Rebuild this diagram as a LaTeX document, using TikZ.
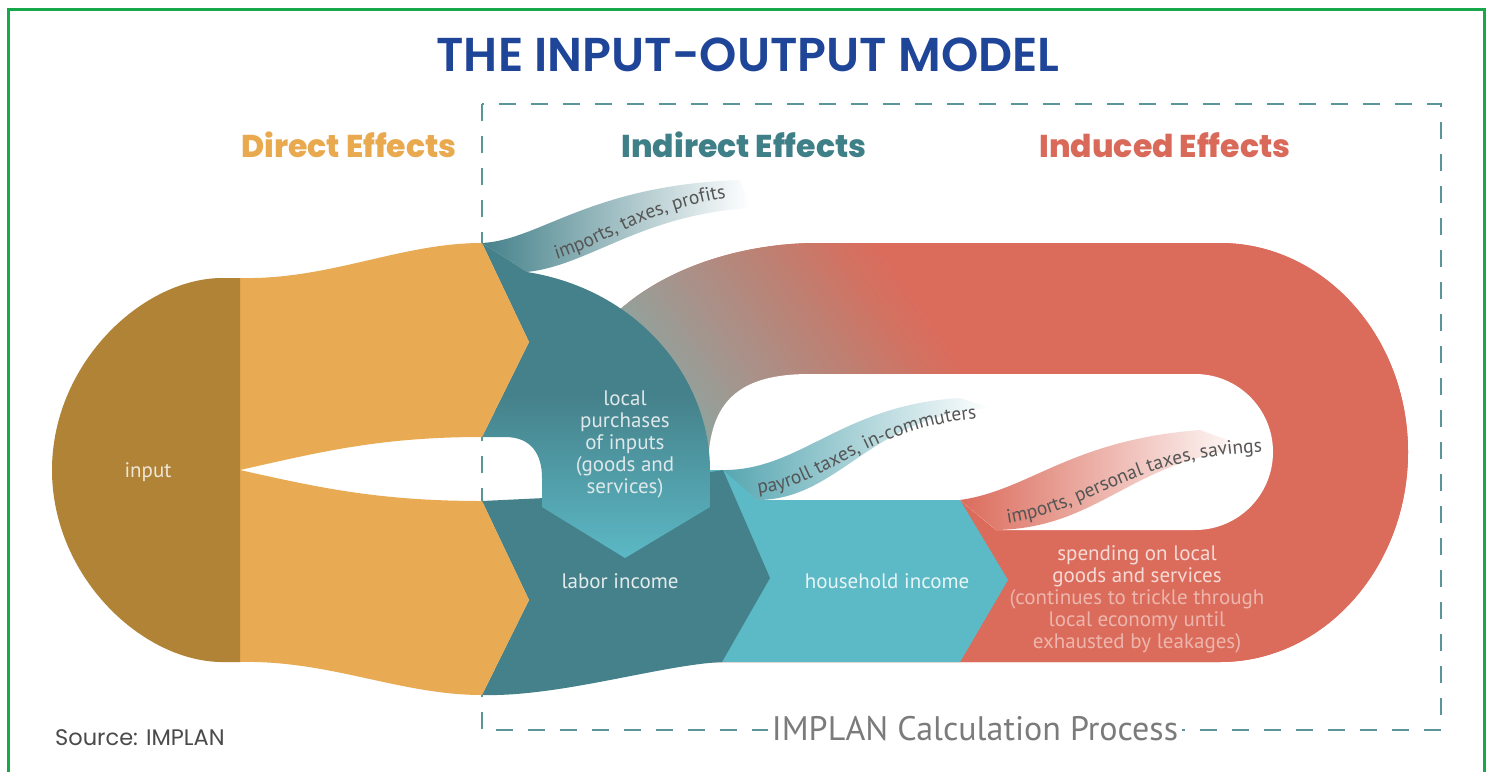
\documentclass[tikz,border=0pt]{standalone}
\usepackage{fontspec}
\usetikzlibrary{decorations.text}
\setmainfont{PT Sans}
\newfontfamily\lblfont{PT Sans}
\newfontfamily\srcfont{Poppins}
% title in a semibold cut where one is installed
\IfFontExistsTF{Poppins SemiBold}
  {\newfontfamily\titlefont{Poppins SemiBold}}
  {\newfontfamily\titlefont{Poppins}[UprightFont=*-Bold]}
% column heads in the heaviest cut at hand
\IfFontExistsTF{Poppins ExtraBold}
  {\newfontfamily\headfont{Poppins ExtraBold}}
  {\newfontfamily\headfont{Poppins}[UprightFont=*-Bold]}

\definecolor{framec}{HTML}{17A84B}
\definecolor{dashc}{HTML}{5C9599}
\definecolor{titleblue}{HTML}{1F4599}
\definecolor{goldc}{HTML}{B08336}
\definecolor{orangec}{HTML}{E8AB53}
\definecolor{tealc}{HTML}{45818A}
\definecolor{tealribbon}{HTML}{55A5B0}
\definecolor{cyanc}{HTML}{5CB9C6}
\definecolor{redc}{HTML}{DB6C5C}
\definecolor{directc}{HTML}{E9A94F}
\definecolor{indirectc}{HTML}{3F7F87}
\definecolor{inducedc}{HTML}{D96A5A}
\definecolor{bandgray}{HTML}{93A19B}
\definecolor{bandmid}{HTML}{A8928A}
\definecolor{bandwarm}{HTML}{C07E70}
\definecolor{bandhot}{HTML}{D27262}
\definecolor{ribbongray}{HTML}{555555}
\definecolor{capgray}{HTML}{7B7B7B}
\definecolor{srcgray}{HTML}{4A4A4A}

% colour run of the upper arch of the loop
\pgfdeclarehorizontalshading{bandgrad}{100bp}{color(0bp)=(bandgray); color(40bp)=(bandgray); color(47.5bp)=(bandmid); color(58bp)=(bandwarm); color(64bp)=(bandhot); color(68bp)=(redc); color(100bp)=(redc)}

\newcommand\ribfont{\lblfont\fontsize{19.5}{22}\selectfont}
\newcommand\labfont{\lblfont\fontsize{21}{22}\selectfont}

% outlines reused for clipping
\def\looppath{(600,520) -- (600,330) .. controls (650,270) and (740,243) .. (817,243) -- (1220,243) .. controls (1323.8,243) and (1408,336.6) .. (1408,452) .. controls (1408,567.4) and (1323.8,662) .. (1220,662) -- (600,662) -- cycle}
\def\upperteal{(482,243) -- (527,272) .. controls (640,290) and (710,380) .. (710,470) -- (710,507) -- (625,558) -- (542,507) -- (542,478) .. controls (542,455) and (532,437) .. (505,437) -- (482,437) -- (529,342) -- cycle}

\begin{document}
\begin{tikzpicture}[x=1pt,y=-1pt,
  ribbontext/.style={decorate, decoration={text along path, text align=center, text color=ribbongray}},
  head/.style={font=\headfont\fontsize{31.5}{34}\selectfont},
  lbl/.style={font=\labfont, align=center, inner sep=0pt}]
\useasboundingbox (0,0) rectangle (1491,772);
\fill[white] (0,0) rectangle (1491,772);

% outer frame, open at the foot
\draw[framec, line width=3pt] (8.5,772) -- (8.5,9.5) -- (1484,9.5) -- (1484,772);

% calculation-process box
\draw[dashc, line width=2.6pt, dash pattern=on 17pt off 15pt] (482,104) rectangle (1441,730);

% induced loop with its colour run
\begin{scope}
  \clip \looppath;
  \fill[redc] (560,200) rectangle (1460,700);
  \shade[shading=bandgrad, shading angle=35] (560,160) rectangle (1000,600);
  \fill[redc] (1000,160) rectangle (1460,700);
  \fill[redc] (560,500) rectangle (1000,700);
\end{scope}
% opening inside the loop
\fill[white] (708,470) .. controls (708,400) and (740,374) .. (810,374) -- (1195,374) .. controls (1238.1,374) and (1273,408.9) .. (1273,452) .. controls (1273,495.1) and (1238.1,530) .. (1195,530) -- (996,530) -- (960,500) -- (708,500) -- cycle;

% leakage ribbons
\shade[left color=tealc, right color=white] (482,243) .. controls (540,240) and (590,185) .. (740,180) -- (750,208) .. controls (640,215) and (590,265) .. (527,272) -- cycle;
\shade[left color=tealribbon, right color=white] (720,470) .. controls (800,472) and (840,405) .. (960,398) -- (990,408) .. controls (870,415) and (840,500) .. (757,500) -- cycle;
\shade[left color=redc, right color=white] (960,500) .. controls (1030,490) and (1070,440) .. (1200,430) -- (1250,448) .. controls (1130,460) and (1100,528) .. (996,530) -- cycle;

% household income
\fill[cyanc] (723,470) -- (757,500) -- (960,500) -- (1008,580) -- (960,662) -- (700,662) -- (700,470) -- cycle;
% labor income
\fill[tealc] (482,501) -- (545,498) -- (723,470) -- (770,578) -- (722,662) .. controls (660,665) and (560,697) .. (482,695) -- (529,600) -- cycle;
% local purchases of inputs
\begin{scope}
  \clip \upperteal;
  \fill[tealc] (470,230) rectangle (720,395);
  \shade[top color=tealc, bottom color=cyanc] (470,395) rectangle (720,560);
\end{scope}

% direct effects
\fill[orangec] (240,278) .. controls (330,280) and (400,243) .. (482,243) -- (529,342) -- (482,437) .. controls (380,437) and (320,452) .. (240,470) -- cycle;
\fill[orangec] (240,470) .. controls (320,488) and (380,501) .. (482,501) -- (529,600) -- (482,695) .. controls (400,695) and (330,660) .. (240,662) -- cycle;
% input
\fill[goldc] (240,278) -- (220,278) .. controls (140,280) and (52,365) .. (52,470) .. controls (52,575) and (140,660) .. (220,662) -- (240,662) -- cycle;

% ribbon captions
\path[ribbontext, decoration={text={|\ribfont|imports, taxes, profits}}] (533,264) .. controls (595,257) and (640,205) .. (750,195);
\path[ribbontext, decoration={text={|\ribfont|payroll taxes, in-commuters}}] (740,495) .. controls (830,494) and (855,425) .. (995,417);
\path[ribbontext, decoration={text={|\ribfont|imports, personal taxes, savings}}] (990,525) .. controls (1095,517) and (1120,455) .. (1280,451);

% titles
\node[font=\titlefont\fontsize{47.5}{52}\selectfont, text=titleblue] (title) at (748,55) {THE INPUT-OUTPUT MODEL};
\node[head, text=directc] (hdirect) at (349,145) {Direct Effects};
\node[head, text=indirectc] (hindirect) at (744,145) {Indirect Effects};
\node[head, text=inducedc] (hinduced) at (1165,145) {Induced Effects};

% flow labels
\node[lbl, text=white!80!goldc] (input) at (148,472) {input};
\node[lbl, text=white!82!tealc] (purch) at (625,444) {local\\purchases\\of inputs\\(goods and\\services)};
\node[lbl, text=white!85!tealc] (labor) at (620,581) {labor income};
\node[lbl, text=white!85!cyanc] (house) at (887,581) {household income};
\node[lbl, text=white!75!redc] (spend) at (1137,566) {spending on local\\goods and services};
\node[lbl, text=white!50!redc] (trickle) at (1137,621) {(continues to trickle through\\local economy until\\exhausted by leakages)};

% box caption and source
\node[fill=white, inner sep=4pt, text=capgray, font=\lblfont\fontsize{34}{38}\selectfont] (calc) at (975,729) {IMPLAN Calculation Process};
\node[anchor=west, inner sep=0pt, text=srcgray, font=\srcfont\fontsize{22.5}{26}\selectfont] (source) at (55,738) {Source: IMPLAN};
\end{tikzpicture}
\end{document}
